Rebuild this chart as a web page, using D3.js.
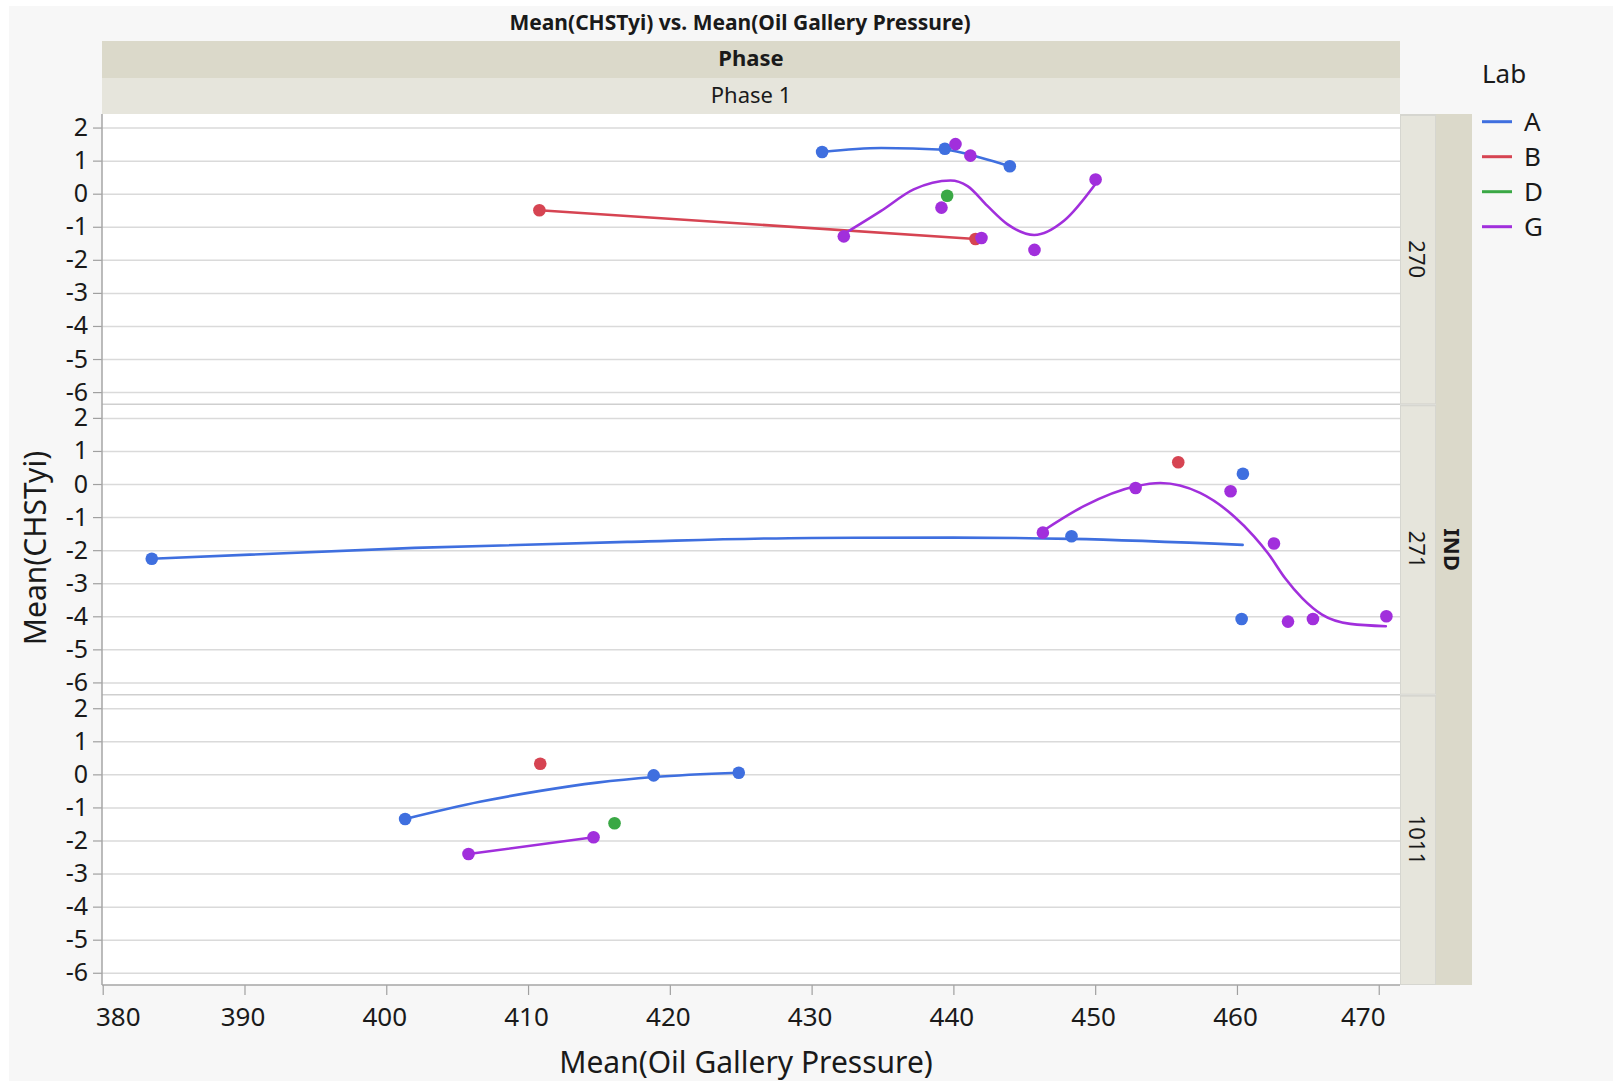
<!DOCTYPE html>
<html>
<head>
<meta charset="utf-8">
<script src="https://cdn.jsdelivr.net/npm/d3@7"></script>
<style>
  body { margin: 0; background: #fff; }
  svg { display: block; }
  text { font-family: "Noto Sans", "Open Sans", sans-serif; fill: #1a1a1a; }
</style>
</head>
<body>
<svg id="chart" width="1613" height="1081"></svg>
<script>
// ---- data ---------------------------------------------------------------
const indLevels = ["270", "271", "1011"];
const labs = ["A", "B", "D", "G"];
const labColors = ["#3f6fdf", "#d64452", "#3aa845", "#a12fdc"];
const xTicks = [380, 390, 400, 410, 420, 430, 440, 450, 460, 470];
const yTicks = [-6, -5, -4, -3, -2, -1, 0, 1, 2];

// Mean(Oil Gallery Pressure) (x) and Mean(CHSTyi) (y) per IND level
const labA = [
  { ind: "270", x: 430.74, y: 1.26 }, { ind: "270", x: 439.40, y: 1.36 }, { ind: "270", x: 443.98, y: 0.83 },
  { ind: "271", x: 383.46, y: -2.26 }, { ind: "271", x: 448.33, y: -1.58 },
  { ind: "271", x: 460.42, y: 0.31 }, { ind: "271", x: 460.33, y: -4.08 },
  { ind: "1011", x: 401.33, y: -1.35 }, { ind: "1011", x: 418.86, y: -0.03 }, { ind: "1011", x: 424.86, y: 0.05 }
];
const labB = [
  { ind: "270", x: 410.80, y: -0.50 }, { ind: "270", x: 441.56, y: -1.37 },
  { ind: "271", x: 455.86, y: 0.66 },
  { ind: "1011", x: 410.86, y: 0.32 }
];
const labD = [
  { ind: "270", x: 439.56, y: -0.06 },
  { ind: "1011", x: 416.10, y: -1.48 }
];
const labG = [
  { ind: "270", x: 432.27, y: -1.29 }, { ind: "270", x: 439.16, y: -0.42 }, { ind: "270", x: 440.15, y: 1.50 },
  { ind: "270", x: 441.20, y: 1.15 }, { ind: "270", x: 441.98, y: -1.34 }, { ind: "270", x: 445.72, y: -1.70 },
  { ind: "270", x: 450.03, y: 0.43 },
  { ind: "271", x: 446.31, y: -1.47 }, { ind: "271", x: 452.85, y: -0.12 }, { ind: "271", x: 459.55, y: -0.22 },
  { ind: "271", x: 462.61, y: -1.80 }, { ind: "271", x: 463.60, y: -4.16 }, { ind: "271", x: 465.36, y: -4.08 },
  { ind: "271", x: 470.54, y: -4.00 },
  { ind: "1011", x: 405.80, y: -2.41 }, { ind: "1011", x: 414.62, y: -1.90 }
];

// smoother curves [pressure, fitted CHSTyi]
const fitA270 = [[430.74, 1.26], [434.9, 1.38], [439.4, 1.33], [442.0, 1.08], [443.98, 0.83]];
const fitA271 = [[383.46, -2.26], [402, -1.93], [417, -1.75], [430, -1.63], [440, -1.62], [448.3, -1.66], [460.4, -1.84]];
const fitA1011 = [[401.33, -1.35], [406.6, -0.83], [410.86, -0.50], [414.86, -0.25], [418.86, -0.08], [424.86, 0.05]];
const fitB270 = [[410.80, -0.50], [441.56, -1.37]];
const fitG270 = [[432.27, -1.22], [434.9, -0.52], [437.2, 0.13], [439.8, 0.40], [441.0, 0.23], [442.4, -0.37],
                 [443.8, -0.92], [445.7, -1.25], [447.8, -0.82], [450.03, 0.30]];
const fitG271 = [[446.31, -1.42], [449.2, -0.67], [452.85, -0.07], [454.6, 0.03], [457.4, -0.27], [459.8, -0.98],
                 [461.2, -1.58], [462.2, -2.10], [463.4, -2.85], [464.6, -3.45], [466.0, -3.95], [468.0, -4.23], [470.5, -4.30]];
const fitG1011 = [[405.80, -2.41], [414.62, -1.90]];

const labPoints = [labA, labB, labD, labG];
const labFits = [
  [["270", fitA270], ["271", fitA271], ["1011", fitA1011]],
  [["270", fitB270]],
  [],
  [["270", fitG270], ["271", fitG271], ["1011", fitG1011]]
];

// ---- layout -------------------------------------------------------------
const svg = d3.select("#chart");
const plot = { left: 102, right: 1400, top: 114, bottom: 985 };
const panelH = (plot.bottom - plot.top) / indLevels.length;

const x = d3.scaleLinear().domain([379.95, 471.5]).range([plot.left, plot.right]);
const yScales = indLevels.map((_, i) =>
  d3.scaleLinear().domain([-6.37, 2.41])
    .range([plot.top + (i + 1) * panelH, plot.top + i * panelH]));
const panelIndex = Object.fromEntries(indLevels.map((d, i) => [d, i]));

// backgrounds
svg.append("rect").attr("width", 1613).attr("height", 1081).attr("fill", "#fff");
svg.append("rect").attr("x", 9).attr("y", 6).attr("width", 1604).attr("height", 1075).attr("fill", "#f7f7f7");

// header bands
svg.append("rect").attr("x", plot.left).attr("y", 41).attr("width", plot.right - plot.left).attr("height", 37).attr("fill", "#dbd9ca");
svg.append("rect").attr("x", plot.left).attr("y", 78).attr("width", plot.right - plot.left).attr("height", 36).attr("fill", "#e6e5dc");

// right strips
svg.append("rect").attr("x", 1436).attr("y", plot.top).attr("width", 36).attr("height", plot.bottom - plot.top).attr("fill", "#dbd9ca");
indLevels.forEach((lvl, i) => {
  svg.append("rect").attr("x", 1400).attr("y", plot.top + i * panelH).attr("width", 36).attr("height", panelH).attr("fill", "#d6d6d0");
  svg.append("rect").attr("x", 1401).attr("y", plot.top + i * panelH + 2).attr("width", 34).attr("height", panelH - 3).attr("fill", "#e6e5dc");
});

// plot area
svg.append("rect").attr("x", plot.left).attr("y", plot.top).attr("width", plot.right - plot.left)
  .attr("height", plot.bottom - plot.top).attr("fill", "#fff");

// per-panel grid and y axis
indLevels.forEach((lvl, i) => {
  const y = yScales[i];
  const grid = svg.append("g").attr("transform", `translate(${plot.left},0)`)
    .call(d3.axisLeft(y).tickValues(yTicks).tickSize(-(plot.right - plot.left)).tickFormat(""));
  grid.select(".domain").remove();
  grid.selectAll("line").attr("stroke", "#dadada").attr("stroke-width", 1.5);

  const ax = svg.append("g").attr("transform", `translate(${plot.left},0)`)
    .call(d3.axisLeft(y).tickValues(yTicks).tickSize(9).tickPadding(5).tickFormat(d => String(d)));
  ax.select(".domain").remove();
  ax.selectAll("line").attr("stroke", "#a0a0a0").attr("stroke-width", 1.2);
  ax.selectAll("text").attr("font-size", 25).attr("fill", "#1a1a1a");

  if (i > 0) {
    svg.append("line").attr("x1", plot.left).attr("x2", plot.right)
      .attr("y1", plot.top + i * panelH).attr("y2", plot.top + i * panelH)
      .attr("stroke", "#cfcfcf").attr("stroke-width", 1.5);
  }
});

// x axis
const xa = svg.append("g").attr("transform", `translate(0,${plot.bottom})`)
  .call(d3.axisBottom(x).tickValues(xTicks).tickSize(10).tickPadding(13).tickFormat(d => String(d)));
xa.select(".domain").remove();
xa.selectAll("line").attr("stroke", "#a0a0a0").attr("stroke-width", 1.2);
xa.selectAll("text").attr("font-size", 26).attr("fill", "#1a1a1a")
  .attr("dx", (d, i) => i === 0 ? 15 : (i === xTicks.length - 1 ? -16 : -2));

// frame lines
svg.append("line").attr("x1", plot.left).attr("x2", plot.left).attr("y1", plot.top).attr("y2", plot.bottom)
  .attr("stroke", "#a6a6a6").attr("stroke-width", 1.5);
svg.append("line").attr("x1", plot.left).attr("x2", plot.right).attr("y1", plot.bottom).attr("y2", plot.bottom)
  .attr("stroke", "#a6a6a6").attr("stroke-width", 1.5);

// ---- marks --------------------------------------------------------------
const marks = svg.append("g");
labFits.forEach((fits, li) => {
  fits.forEach(([lvl, pts]) => {
    const y = yScales[panelIndex[lvl]];
    const line = d3.line().x(d => x(d[0])).y(d => y(d[1])).curve(d3.curveMonotoneX);
    marks.append("path").attr("d", line(pts)).attr("fill", "none")
      .attr("stroke", labColors[li]).attr("stroke-width", 2.6).attr("stroke-linecap", "round");
  });
});
labPoints.forEach((pts, li) => {
  marks.selectAll(null).data(pts).enter().append("circle")
    .attr("cx", d => x(d.x)).attr("cy", d => yScales[panelIndex[d.ind]](d.y))
    .attr("r", 6.3).attr("fill", labColors[li]);
});

// ---- text ---------------------------------------------------------------
svg.append("text").attr("x", 740).attr("y", 30).attr("text-anchor", "middle")
  .attr("font-size", 21).attr("font-weight", "bold").attr("fill", "#000")
  .text("Mean(CHSTyi) vs. Mean(Oil Gallery Pressure)");
svg.append("text").attr("x", 751).attr("y", 66).attr("text-anchor", "middle")
  .attr("font-size", 22).attr("font-weight", "bold").attr("fill", "#000").text("Phase");
svg.append("text").attr("x", 751).attr("y", 103).attr("text-anchor", "middle")
  .attr("font-size", 22).attr("fill", "#222").text("Phase 1");

indLevels.forEach((lvl, i) => {
  const cy = plot.top + (i + 0.5) * panelH;
  svg.append("text").attr("transform", `translate(1418,${cy}) rotate(90)`)
    .attr("text-anchor", "middle").attr("dominant-baseline", "central")
    .attr("font-size", 22).attr("fill", "#333").text(lvl);
});
svg.append("text").attr("transform", `translate(1453,${(plot.top + plot.bottom) / 2}) rotate(90)`)
  .attr("text-anchor", "middle").attr("dominant-baseline", "central")
  .attr("font-size", 22).attr("font-weight", "bold").attr("fill", "#000").text("IND");

svg.append("text").attr("transform", `translate(34,548) rotate(-90)`)
  .attr("text-anchor", "middle").attr("dominant-baseline", "central")
  .attr("font-size", 30).attr("fill", "#222").text("Mean(CHSTyi)");
svg.append("text").attr("x", 746).attr("y", 1073).attr("text-anchor", "middle")
  .attr("font-size", 30).attr("fill", "#222").text("Mean(Oil Gallery Pressure)");

// legend
svg.append("text").attr("x", 1482).attr("y", 83).attr("font-size", 26).attr("fill", "#222").text("Lab");
labs.forEach((lab, i) => {
  const ly = 121.7 + i * 35;
  svg.append("line").attr("x1", 1482).attr("x2", 1512).attr("y1", ly).attr("y2", ly)
    .attr("stroke", labColors[i]).attr("stroke-width", 3);
  svg.append("text").attr("x", 1524).attr("y", ly + 9.5).attr("font-size", 26).attr("fill", "#222").text(lab);
});
</script>
</body>
</html>
